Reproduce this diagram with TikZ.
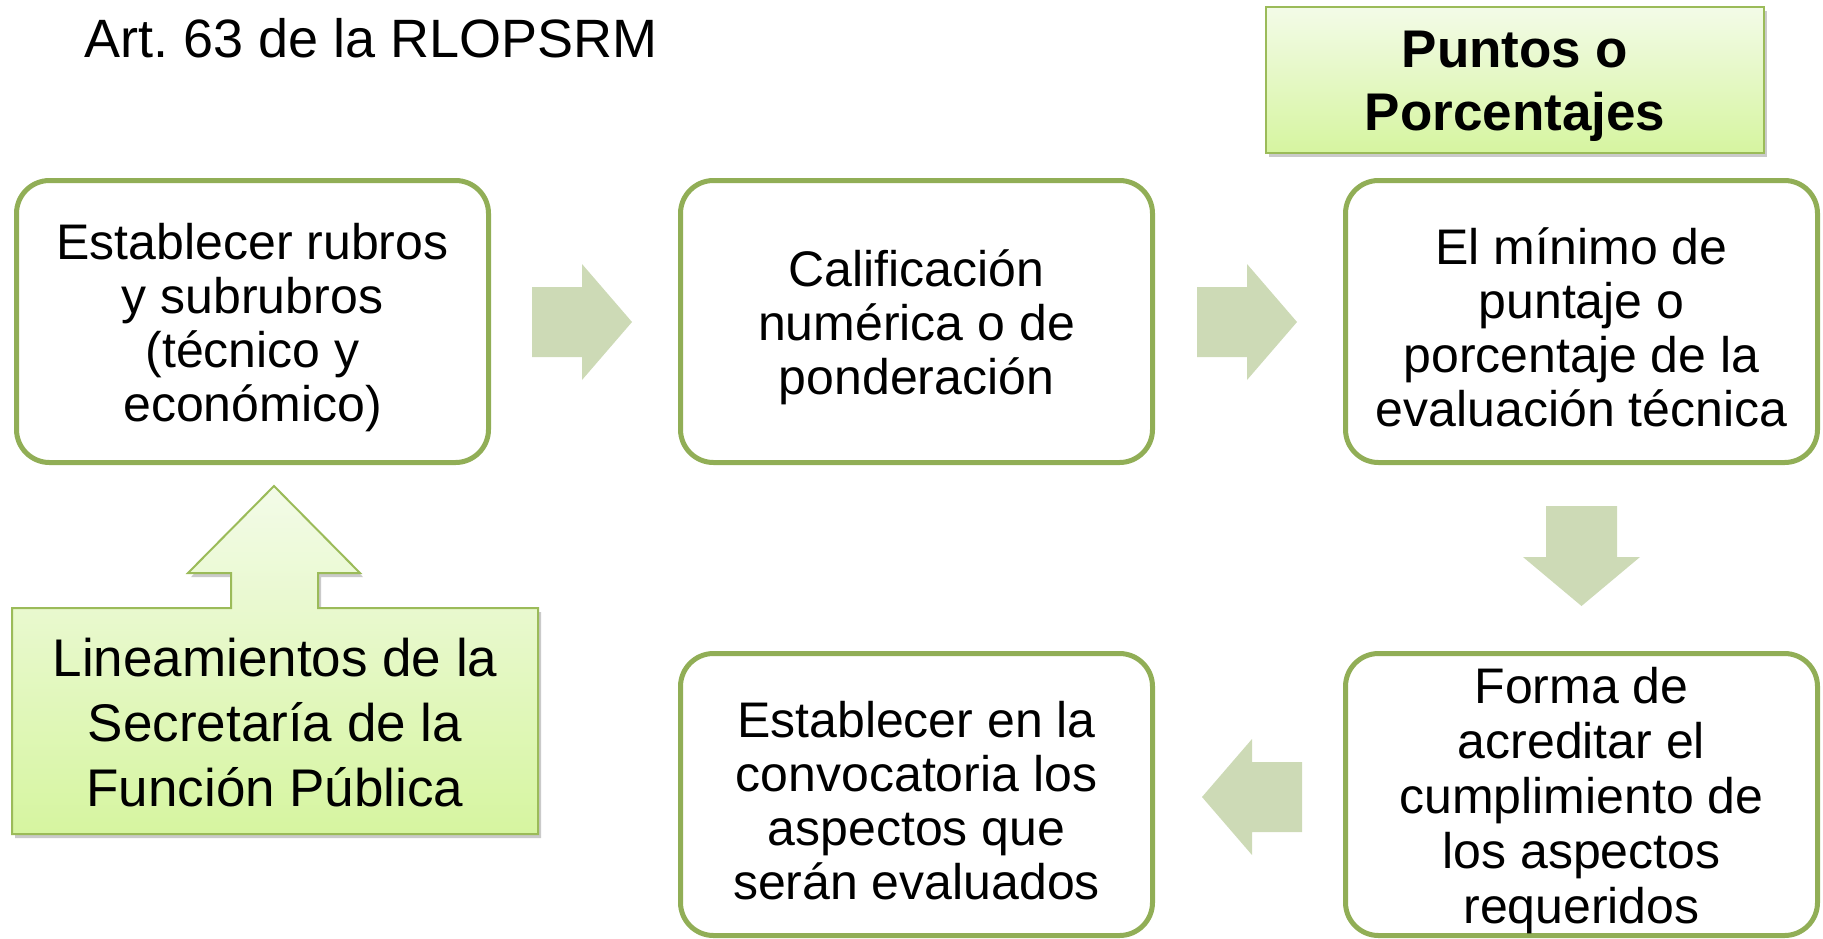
\documentclass[tikz,border=0pt]{standalone}
\usepackage{fontspec}
\setmainfont{Liberation Sans}
\usepackage{tikz}
\usetikzlibrary{shadows}

\definecolor{boxline}{RGB}{145,174,86}
\definecolor{calloutline}{RGB}{155,187,89}
\definecolor{lighttop}{RGB}{243,251,232}
\definecolor{lightbottom}{RGB}{214,245,160}
\definecolor{arrowgreen}{RGB}{205,218,182}

\newcommand{\topgap}{\rule{0pt}{48pt}}

\begin{document}
\begin{tikzpicture}[x=1pt,y=-1pt,
  stepbox/.style={draw=boxline,line width=5pt,rounded corners=33pt,fill=white,
    minimum width=472pt,minimum height=282pt,align=center,inner sep=0pt,
    font=\fontsize{50}{54}\selectfont},
  greenbox/.style={draw=calloutline,line width=2pt,top color=lighttop,bottom color=lightbottom,
    drop shadow={shadow xshift=3pt,shadow yshift=-4pt,opacity=0.35,fill=black!60}},
  blockarrow/.style={fill=arrowgreen}]

    \useasboundingbox (0,0) rectangle (1823,938);

    % Title
    \node [anchor=base west,inner sep=0pt,font=\fontsize{54}{60}\selectfont] at (84,57) (titulo) {Art.\ 63 de la RLOPSRM};

    % Header box
    \node [greenbox,minimum width=498pt,minimum height=146pt,inner sep=0pt] at (1515,79.5) (puntos) {};
    \node [align=center,inner sep=0pt,font=\fontsize{53}{63}\selectfont\bfseries]
      at ([yshift=-7pt]puntos.center) (puntostxt) {Puntos o\\Porcentajes};

    % The steps
    \node [stepbox] at (252.5,321.5) (rubros) {\topgap Establecer rubros\\y subrubros\\(técnico y\\económico)};
    \node [stepbox] at (916.5,321.5) (calif) {\topgap Calificación\\numérica o de\\ponderación};
    \node [stepbox] at (1581.5,321.5) (minimo) {\topgap El mínimo de\\puntaje o\\porcentaje de la\\evaluación técnica};
    \node [stepbox,font=\fontsize{50}{55}\selectfont] at (1581.5,794.5) (forma) {\topgap Forma de\\acreditar el\\cumplimiento de\\los aspectos\\requeridos};
    \node [stepbox] at (916.5,794.5) (convoca) {\topgap Establecer en la\\convocatoria los\\aspectos que\\serán evaluados};

    % Callout with up arrow
    \draw [greenbox] (12,608) -- (231,608) -- (231,573) -- (188,573) -- (274,486)
      -- (360,573) -- (318,573) -- (318,608) -- (538,608) -- (538,834) -- (12,834) -- cycle;
    \node [align=center,inner sep=0pt,font=\fontsize{53}{65}\selectfont] at (275,723) (lineam)
      {Lineamientos de la\\Secretaría de la\\Función Pública};

    % Block arrows
    \fill [blockarrow] (532,287) -- (582,287) -- (582,264) -- (632,322) -- (582,380) -- (582,357) -- (532,357) -- cycle;
    \fill [blockarrow] (1197,287) -- (1247,287) -- (1247,264) -- (1297,322) -- (1247,380) -- (1247,357) -- (1197,357) -- cycle;
    \fill [blockarrow] (1546,506) -- (1617,506) -- (1617,557) -- (1640,557) -- (1581.5,606) -- (1523,557) -- (1546,557) -- cycle;
    \fill [blockarrow] (1302,762) -- (1252,762) -- (1252,739) -- (1202,797) -- (1252,855) -- (1252,832) -- (1302,832) -- cycle;

\end{tikzpicture}
\end{document}
